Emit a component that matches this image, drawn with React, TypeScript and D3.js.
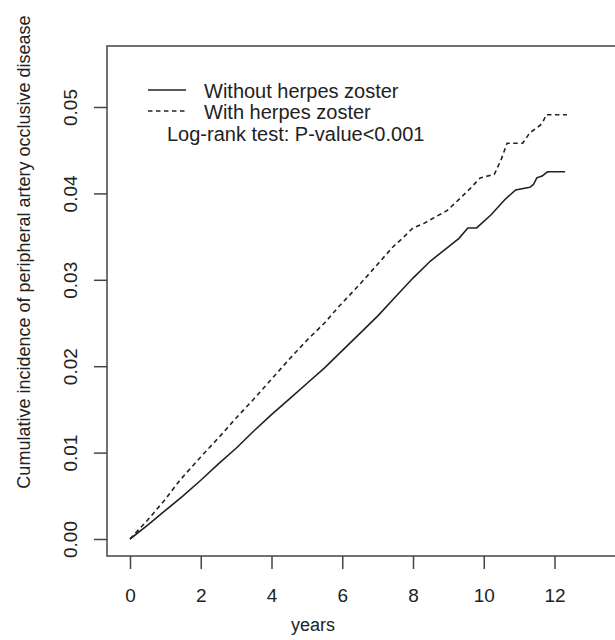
import React, { useRef, useEffect } from 'react';
import * as d3 from 'd3';

// values (years, cumulative incidence)
const withoutTimes = [0, 0.5, 1, 1.5, 2, 2.5, 3, 3.5, 4, 4.5, 5, 5.5, 6, 6.5, 7, 7.5, 8, 8.5, 9, 9.3, 9.55, 9.8, 10.2, 10.6, 10.9, 11.3, 11.4, 11.5, 11.65, 11.8, 12.3];
const withoutValues = [0, 0.0016, 0.0033, 0.005, 0.0068, 0.0087, 0.0105, 0.0125, 0.0144, 0.0162, 0.018, 0.0198, 0.0218, 0.0238, 0.0258, 0.028, 0.0302, 0.0322, 0.0338, 0.0348, 0.036, 0.036, 0.0375, 0.0393, 0.0404, 0.0407, 0.041, 0.0418, 0.042, 0.0425, 0.0425];

const withTimes = [0, 0.5, 1, 1.41, 2, 2.5, 3, 3.5, 4, 4.5, 5, 5.5, 5.88, 6.5, 7, 7.43, 7.7, 8, 8.3, 8.6, 8.96, 9.3, 9.6, 9.9, 10.3, 10.5, 10.66, 11.1, 11.3, 11.6, 11.7, 11.76, 12.35];
const withValues = [0, 0.0022, 0.0046, 0.0068, 0.0095, 0.0117, 0.014, 0.0162, 0.0185, 0.0208, 0.023, 0.025, 0.0268, 0.0295, 0.0318, 0.0338, 0.0348, 0.036, 0.0365, 0.0372, 0.038, 0.0393, 0.0405, 0.0418, 0.0422, 0.044, 0.0458, 0.0458, 0.047, 0.0479, 0.0485, 0.0491, 0.0491];

const xTicks = [0, 2, 4, 6, 8, 10, 12];
const yTicks = [0, 0.01, 0.02, 0.03, 0.04, 0.05];
const legendLabels = ['Without herpes zoster', 'With herpes zoster'];

const FONT = "'Liberation Sans', Arial, sans-serif";

export default function App() {
  const svgRef = useRef<SVGSVGElement>(null);

  useEffect(() => {
    const svg = d3.select(svgRef.current);
    svg.selectAll('*').remove();

    const x = d3.scaleLinear().domain([0, 12]).range([130, 554.5]);
    const y = d3.scaleLinear().domain([0, 0.05]).range([539, 107]);
    const box = { left: 107, top: 46, right: 640, bottom: 556 };
    const ink = '#222';

    // plot frame
    svg.append('rect')
      .attr('x', box.left).attr('y', box.top)
      .attr('width', box.right - box.left).attr('height', box.bottom - box.top)
      .attr('fill', 'none').attr('stroke', '#444').attr('stroke-width', 1.5);

    // x axis
    const gx = svg.append('g').attr('transform', `translate(0,${box.bottom})`);
    gx.call(d3.axisBottom(x).tickValues(xTicks).tickSize(13).tickPadding(20).tickSizeOuter(0).tickFormat(d3.format('d')));
    gx.select('.domain').remove();
    gx.selectAll('line').attr('stroke', '#444').attr('stroke-width', 1.5);
    gx.selectAll('text').attr('font-family', FONT).attr('font-size', 19).attr('fill', ink);

    // y axis
    const gy = svg.append('g').attr('transform', `translate(${box.left},0)`);
    gy.call(d3.axisLeft(y).tickValues(yTicks).tickSize(13).tickSizeOuter(0).tickFormat(d3.format('.2f')));
    gy.select('.domain').remove();
    gy.selectAll('line').attr('stroke', '#444').attr('stroke-width', 1.5);
    gy.selectAll('text')
      .attr('x', null).attr('dy', null)
      .attr('transform', 'translate(-30,0) rotate(-90)')
      .attr('text-anchor', 'middle')
      .attr('font-family', FONT).attr('font-size', 19).attr('fill', ink);

    // axis titles
    svg.append('text')
      .attr('x', 313).attr('y', 631)
      .attr('text-anchor', 'middle')
      .attr('font-family', FONT).attr('font-size', 18).attr('fill', ink)
      .text('years');
    svg.append('text')
      .attr('transform', 'translate(30,252) rotate(-90)')
      .attr('text-anchor', 'middle')
      .attr('font-family', FONT).attr('font-size', 18).attr('fill', ink)
      .text('Cumulative incidence of peripheral artery occlusive disease');

    // curves
    const line = d3.line<[number, number]>()
      .x(d => x(d[0]))
      .y(d => y(d[1]));

    svg.append('path')
      .attr('d', line(withoutTimes.map((t, i) => [t, withoutValues[i]])))
      .attr('fill', 'none').attr('stroke', ink).attr('stroke-width', 1.6);

    svg.append('path')
      .attr('d', line(withTimes.map((t, i) => [t, withValues[i]])))
      .attr('fill', 'none').attr('stroke', ink).attr('stroke-width', 1.6)
      .attr('stroke-dasharray', '4.5,3.5');

    // legend
    const legendY = [90, 111];
    legendLabels.forEach((label, i) => {
      svg.append('line')
        .attr('x1', 148).attr('x2', 186)
        .attr('y1', legendY[i]).attr('y2', legendY[i])
        .attr('stroke', ink).attr('stroke-width', 1.6)
        .attr('stroke-dasharray', i === 1 ? '4.5,3.5' : null);
      svg.append('text')
        .attr('x', 204).attr('y', legendY[i] + 7.5)
        .attr('font-family', FONT).attr('font-size', 20).attr('fill', ink)
        .text(label);
    });

    svg.append('text')
      .attr('x', 167).attr('y', 141)
      .attr('font-family', FONT).attr('font-size', 20).attr('fill', ink)
      .text('Log-rank test: P-value<0.001');
  }, []);

  return (
    <svg
      ref={svgRef}
      width={615}
      height={640}
      style={{ position: 'absolute', left: 0, top: 0, background: '#fff' }}
    />
  );
}
